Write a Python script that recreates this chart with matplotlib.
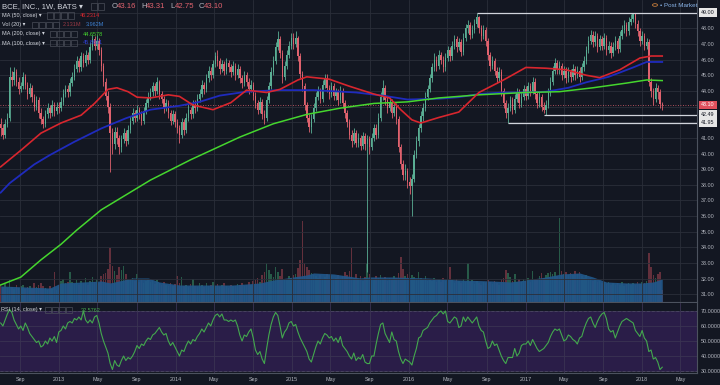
import matplotlib.pyplot as plt
import matplotlib.transforms as mtransforms
from matplotlib.patches import Rectangle, Circle
import numpy as np
import pandas as pd

plt.rcParams['font.family'] = ['Liberation Sans', 'DejaVu Sans']

# weekly candles, BCE on BATS, first week starts 2012-07-02
opens = [
    41.9, 41.6, 41.2, 41.9, 42.3, 44.9, 44.7, 45.2, 44.6, 44.1, 44.3, 44.9, 44.4, 43.8, 44.2, 43.6, 43.0, 43.4, 42.6, 42.2, 41.9, 42.5, 42.9, 42.6, 43.1, 42.7,
    43.0, 42.9, 43.3, 43.8, 44.1, 43.9, 44.5, 44.9, 45.4, 45.9, 45.5, 46.2, 45.8, 46.3, 46.0, 46.8, 47.3, 46.9, 47.2, 46.6, 45.6, 44.6, 43.7, 43.0, 41.3, 40.6, 41.4,
    41.0, 40.4, 40.9, 41.3, 40.8, 41.5, 42.1, 42.6, 42.3, 42.8, 42.5, 42.1, 42.7, 43.2, 43.6, 43.9, 44.3, 44.0, 44.6, 43.8, 43.5, 42.9, 43.2, 42.6, 42.1, 42.5,
    42.0, 41.6, 41.2, 42.0, 41.5, 42.3, 42.8, 42.5, 43.1, 42.9, 43.5, 43.8, 44.4, 44.1, 44.8, 45.3, 45.0, 45.7, 46.2, 45.9, 45.4, 45.7, 45.3, 45.8, 45.5, 45.2,
    45.6, 45.0, 45.4, 44.8, 44.5, 45.0, 44.6, 44.1, 44.4, 43.7, 43.2, 42.8, 43.3, 42.5, 42.3, 43.4, 44.3, 45.2, 45.9, 46.8, 47.3, 46.4, 44.9, 45.6, 46.3, 46.9,
    47.4, 47.0, 47.4, 46.2, 45.1, 44.3, 43.1, 42.3, 41.7, 42.2, 42.9, 43.6, 44.0, 43.5, 44.4, 44.8, 44.2, 43.8, 44.3, 43.7, 43.9, 43.4, 44.0, 43.2, 42.6, 42.0,
    41.2, 40.8, 41.3, 40.7, 41.0, 40.5, 41.1, 40.6, 40.9, 40.4, 41.0, 41.6, 41.2, 42.3, 43.6, 44.2, 43.4, 42.9, 43.3, 42.6, 43.0, 42.2, 40.4, 39.3, 38.6, 38.9,
    38.2, 37.9, 38.4, 39.9, 40.8, 41.6, 42.4, 42.9, 43.6, 44.1, 44.8, 45.5, 46.0, 45.6, 46.3, 46.0, 45.5, 46.1, 46.6, 46.2, 46.9, 47.3, 46.8, 47.1, 46.5, 47.4,
    48.0, 48.2, 47.6, 47.9, 48.3, 48.7, 48.0, 47.5, 47.9, 47.2, 46.3, 45.6, 45.9, 45.3, 44.8, 45.2, 44.0, 43.2, 42.6, 42.9, 43.4, 42.8, 43.5, 43.9, 43.2, 43.6,
    44.1, 43.7, 44.3, 44.0, 44.6, 43.8, 43.2, 43.6, 43.0, 42.8, 43.1, 43.9, 44.6, 45.3, 45.8, 45.4, 45.6, 45.0, 45.3, 44.8, 45.2, 44.9, 45.4, 45.0, 45.3, 44.9,
    45.5, 45.9, 46.6, 47.2, 47.6, 47.1, 47.5, 46.8, 47.3, 46.9, 47.4, 46.6, 46.9, 46.4, 46.8, 47.2, 46.7, 47.5, 47.9, 48.2, 47.8, 48.4, 48.6, 48.9, 48.3, 47.8,
    47.2, 47.5, 46.9, 47.1, 44.6, 44.0, 43.5, 44.2, 43.9, 43.16,
]
highs = [
    42.3, 41.9, 42.2, 42.6, 45.5, 45.3, 45.5, 45.4, 44.9, 44.6, 45.2, 45.1, 44.6, 44.5, 44.4, 43.8, 43.7, 43.6, 42.9, 42.4, 42.8, 43.2, 43.1, 43.4, 43.3, 43.3,
    43.3, 43.6, 44.1, 44.4, 44.4, 44.8, 45.2, 45.7, 46.2, 46.1, 46.5, 46.4, 46.6, 46.5, 47.1, 47.6, 47.5, 47.6, 47.4, 46.8, 45.8, 44.8, 44.0, 43.2, 41.6, 41.7, 41.7,
    41.2, 41.2, 41.6, 41.5, 41.8, 42.4, 42.9, 42.8, 43.1, 43.0, 42.7, 43.0, 43.5, 43.9, 44.2, 44.6, 44.5, 44.9, 44.7, 44.0, 43.7, 43.5, 43.4, 42.8, 42.8, 42.7,
    42.2, 41.8, 42.3, 42.2, 42.6, 43.1, 43.0, 43.4, 43.4, 43.8, 44.1, 44.7, 44.6, 45.1, 45.6, 45.5, 46.0, 46.5, 46.6, 46.1, 46.0, 45.9, 46.1, 46.0, 45.7, 45.9,
    45.8, 45.7, 45.6, 45.0, 45.3, 45.2, 44.8, 44.7, 44.6, 43.9, 43.4, 43.6, 43.5, 42.8, 43.7, 44.6, 45.5, 46.2, 47.1, 47.8, 47.5, 46.6, 45.9, 46.6, 47.2, 47.7,
    47.7, 47.8, 47.5, 46.4, 45.3, 44.5, 43.3, 42.5, 42.5, 43.2, 43.9, 44.3, 44.2, 44.7, 45.1, 45.1, 44.4, 44.6, 44.5, 44.2, 44.1, 44.3, 44.2, 43.4, 42.8, 42.2,
    41.5, 41.6, 41.5, 41.3, 41.2, 41.4, 41.3, 41.2, 41.1, 41.3, 41.9, 41.9, 42.6, 43.9, 44.7, 44.4, 43.6, 43.6, 43.5, 43.3, 43.2, 42.4, 40.6, 39.6, 39.3, 39.1,
    38.5, 38.7, 40.2, 41.1, 41.9, 42.7, 43.2, 43.9, 44.4, 45.1, 45.8, 46.4, 46.2, 46.6, 46.5, 46.2, 46.4, 46.9, 46.8, 47.2, 47.6, 47.5, 47.4, 47.3, 47.7, 48.3,
    48.5, 48.4, 48.2, 48.6, 49.0, 48.8, 48.2, 48.2, 48.1, 47.4, 46.5, 46.2, 46.1, 45.5, 45.5, 45.4, 44.2, 43.4, 43.2, 43.7, 43.6, 43.8, 44.2, 44.1, 43.9, 44.4,
    44.3, 44.6, 44.5, 44.9, 44.8, 44.0, 43.9, 43.8, 43.3, 43.4, 44.2, 44.9, 45.6, 46.1, 46.0, 45.9, 45.8, 45.6, 45.5, 45.5, 45.4, 45.7, 45.6, 45.6, 45.5, 45.8,
    46.2, 46.9, 47.5, 47.9, 47.8, 47.8, 47.7, 47.6, 47.5, 47.7, 47.6, 47.2, 47.1, 47.1, 47.5, 47.4, 47.8, 48.2, 48.5, 48.4, 48.7, 48.9, 49.0, 49.0, 48.5, 48.0,
    47.8, 47.7, 47.4, 47.3, 44.8, 44.2, 44.5, 44.4, 44.1, 43.31,
]
lows = [
    41.1, 40.9, 41.0, 41.7, 42.1, 44.3, 44.4, 44.3, 43.8, 43.9, 44.1, 44.1, 43.5, 43.6, 43.3, 42.7, 42.8, 42.3, 41.9, 41.6, 41.7, 42.3, 42.3, 42.4, 42.4, 42.5,
    42.6, 42.7, 43.1, 43.6, 43.6, 43.7, 44.3, 44.7, 45.2, 45.2, 45.3, 45.5, 45.6, 45.7, 45.8, 46.6, 46.6, 46.7, 46.3, 45.3, 44.3, 43.4, 42.6, 38.8, 40.0, 40.3, 40.6,
    40.0, 40.1, 40.7, 40.5, 40.6, 41.3, 41.9, 42.0, 42.1, 42.2, 41.8, 41.9, 42.5, 43.0, 43.4, 43.7, 43.7, 43.8, 43.5, 43.2, 42.6, 42.7, 42.3, 41.8, 41.9, 41.7,
    41.3, 40.7, 41.0, 41.2, 41.3, 42.1, 42.2, 42.3, 42.6, 42.7, 43.3, 43.6, 43.8, 43.9, 44.6, 44.7, 44.8, 45.5, 45.6, 45.1, 45.2, 45.0, 45.1, 45.2, 44.9, 45.0,
    44.7, 44.8, 44.5, 44.2, 44.3, 44.3, 43.8, 43.9, 43.4, 42.9, 42.5, 42.6, 42.2, 41.9, 42.1, 43.2, 44.1, 45.0, 45.7, 46.6, 46.1, 44.5, 44.7, 45.4, 46.1, 46.7,
    46.7, 46.8, 45.9, 44.8, 44.0, 42.8, 42.0, 41.4, 41.3, 42.0, 42.7, 43.4, 43.2, 43.3, 44.2, 43.9, 43.5, 43.6, 43.4, 43.4, 43.1, 43.2, 42.9, 42.3, 41.7, 40.9,
    40.4, 40.6, 40.4, 40.4, 40.2, 40.3, 40.2, 32.4, 40.0, 40.2, 40.8, 40.9, 41.0, 42.1, 43.4, 43.1, 42.6, 42.7, 42.3, 42.4, 41.9, 40.1, 39.0, 38.3, 38.3, 37.8,
    37.4, 36.0, 38.2, 39.7, 40.5, 41.4, 42.1, 42.7, 43.4, 43.9, 44.6, 45.3, 45.3, 45.4, 45.7, 45.2, 45.3, 45.9, 45.9, 46.0, 46.7, 46.5, 46.6, 46.2, 46.3, 47.2,
    47.7, 47.3, 47.4, 47.7, 48.1, 47.7, 47.2, 47.3, 46.9, 46.0, 45.3, 45.4, 45.0, 44.5, 44.6, 43.7, 42.9, 42.3, 41.95, 42.7, 42.5, 42.6, 43.3, 42.9, 43.0, 43.4,
    43.4, 43.5, 43.7, 43.8, 43.5, 42.9, 43.0, 42.7, 42.6, 42.49, 42.9, 43.7, 44.4, 45.1, 45.1, 45.1, 44.7, 44.8, 44.5, 44.6, 44.6, 44.7, 44.7, 44.8, 44.6, 44.7,
    45.3, 45.7, 46.4, 47.0, 46.8, 46.9, 46.5, 46.6, 46.6, 46.7, 46.3, 46.4, 46.1, 46.2, 46.6, 46.4, 46.5, 47.3, 47.7, 47.5, 47.6, 48.2, 48.4, 48.0, 47.5, 46.9,
    47.0, 46.6, 46.7, 44.3, 43.6, 43.1, 43.3, 43.5, 42.9, 42.75,
]
closes = [
    41.6, 41.2, 41.9, 42.3, 44.9, 44.7, 45.2, 44.6, 44.1, 44.3, 44.9, 44.4, 43.8, 44.2, 43.6, 43.0, 43.4, 42.6, 42.2, 41.9, 42.5, 42.9, 42.6, 43.1, 42.7, 43.0,
    42.9, 43.3, 43.8, 44.1, 43.9, 44.5, 44.9, 45.4, 45.9, 45.5, 46.2, 45.8, 46.3, 46.0, 46.8, 47.3, 46.9, 47.2, 46.6, 45.6, 44.6, 43.7, 43.0, 41.3, 40.6, 41.4, 41.0,
    40.4, 40.9, 41.3, 40.8, 41.5, 42.1, 42.6, 42.3, 42.8, 42.5, 42.1, 42.7, 43.2, 43.6, 43.9, 44.3, 44.0, 44.6, 43.8, 43.5, 42.9, 43.2, 42.6, 42.1, 42.5, 42.0,
    41.6, 41.2, 42.0, 41.5, 42.3, 42.8, 42.5, 43.1, 42.9, 43.5, 43.8, 44.4, 44.1, 44.8, 45.3, 45.0, 45.7, 46.2, 45.9, 45.4, 45.7, 45.3, 45.8, 45.5, 45.2, 45.6,
    45.0, 45.4, 44.8, 44.5, 45.0, 44.6, 44.1, 44.4, 43.7, 43.2, 42.8, 43.3, 42.5, 42.3, 43.4, 44.3, 45.2, 45.9, 46.8, 47.3, 46.4, 44.9, 45.6, 46.3, 46.9, 47.4,
    47.0, 47.4, 46.2, 45.1, 44.3, 43.1, 42.3, 41.7, 42.2, 42.9, 43.6, 44.0, 43.5, 44.4, 44.8, 44.2, 43.8, 44.3, 43.7, 43.9, 43.4, 44.0, 43.2, 42.6, 42.0, 41.2,
    40.8, 41.3, 40.7, 41.0, 40.5, 41.1, 40.6, 40.9, 40.4, 41.0, 41.6, 41.2, 42.3, 43.6, 44.2, 43.4, 42.9, 43.3, 42.6, 43.0, 42.2, 40.4, 39.3, 38.6, 38.9, 38.2,
    37.9, 38.4, 39.9, 40.8, 41.6, 42.4, 42.9, 43.6, 44.1, 44.8, 45.5, 46.0, 45.6, 46.3, 46.0, 45.5, 46.1, 46.6, 46.2, 46.9, 47.3, 46.8, 47.1, 46.5, 47.4, 48.0,
    48.2, 47.6, 47.9, 48.3, 48.7, 48.0, 47.5, 47.9, 47.2, 46.3, 45.6, 45.9, 45.3, 44.8, 45.2, 44.0, 43.2, 42.6, 42.9, 43.4, 42.8, 43.5, 43.9, 43.2, 43.6, 44.1,
    43.7, 44.3, 44.0, 44.6, 43.8, 43.2, 43.6, 43.0, 42.8, 43.1, 43.9, 44.6, 45.3, 45.8, 45.4, 45.6, 45.0, 45.3, 44.8, 45.2, 44.9, 45.4, 45.0, 45.3, 44.9, 45.5,
    45.9, 46.6, 47.2, 47.6, 47.1, 47.5, 46.8, 47.3, 46.9, 47.4, 46.6, 46.9, 46.4, 46.8, 47.2, 46.7, 47.5, 47.9, 48.2, 47.8, 48.4, 48.6, 48.9, 48.3, 47.8, 47.2,
    47.5, 46.9, 47.1, 44.6, 44.0, 43.5, 44.2, 43.9, 43.16, 43.10,
]
# weekly volume, millions
volumes = [
    2.9, 2.5, 3.1, 2.4, 3.8, 2.6, 2.2, 2.9, 2.4, 2.7, 3.0, 2.3, 2.6, 2.8, 2.2, 3.3, 2.5, 2.9, 3.2, 2.7, 2.4, 2.1, 2.8, 2.3, 5.2, 2.0,
    3.0, 3.6, 3.9, 3.2, 3.5, 5.2, 3.4, 3.1, 3.8, 2.9, 3.6, 3.3, 4.1, 3.0, 3.7, 4.3, 3.5, 3.9, 3.2, 4.4, 4.8, 5.0, 5.6, 9.3, 6.2, 5.4, 4.6,
    6.0, 5.5, 6.2, 4.9, 4.0, 3.8, 4.2, 3.6, 4.8, 3.5, 3.9, 3.3, 3.7, 4.0, 3.4, 3.6, 3.1, 3.8, 3.2, 2.9, 3.5, 3.0, 2.7, 3.3, 2.8, 3.1,
    4.4, 3.2, 4.3, 2.7, 3.0, 2.6, 3.1, 4.0, 2.8, 2.5, 3.2, 2.9, 2.6, 3.3, 2.7, 3.0, 3.4, 2.8, 3.1, 2.6, 2.9, 3.2, 2.7, 2.4, 3.0, 2.8,
    2.7, 3.1, 2.9, 3.3, 2.8, 3.0, 3.4, 2.9, 3.6, 3.8, 4.1, 3.5, 4.6, 5.2, 6.7, 5.5, 4.8, 4.3, 6.0, 5.1, 4.4, 5.6, 4.0, 3.8, 4.5, 4.2,
    4.6, 4.9, 5.8, 7.2, 14.0, 6.8, 6.1, 5.5, 5.0, 4.7, 4.4, 4.1, 4.6, 3.9, 4.3, 4.8, 4.0, 4.5, 3.8, 4.2, 4.6, 3.9, 4.4, 5.1, 4.7, 5.4,
    9.3, 4.2, 4.8, 3.9, 4.5, 3.7, 4.3, 6.7, 4.9, 4.0, 3.8, 4.4, 4.1, 4.7, 3.9, 4.3, 3.7, 4.2, 3.8, 4.5, 4.1, 5.0, 7.8, 5.6, 4.4, 4.9,
    5.2, 4.6, 4.3, 3.9, 5.2, 4.1, 3.8, 4.4, 3.7, 4.0, 3.6, 4.2, 3.5, 3.9, 3.4, 4.1, 3.7, 3.5, 6.0, 3.8, 3.3, 3.9, 3.6, 3.2, 4.0, 3.5,
    6.7, 3.4, 3.8, 3.1, 3.6, 3.3, 3.0, 3.5, 3.2, 3.8, 3.4, 3.1, 3.7, 3.3, 3.0, 3.9, 4.2, 5.5, 5.0, 4.3, 3.6, 4.8, 3.4, 3.9, 3.5, 4.0,
    3.7, 4.1, 3.5, 5.3, 4.0, 3.8, 4.4, 5.0, 4.2, 4.6, 5.0, 5.2, 4.8, 5.1, 4.5, 14.5, 5.4, 4.9, 5.2, 4.6, 5.0, 4.7, 5.3, 4.8, 5.1, 4.5,
    4.2, 4.6, 3.9, 4.1, 3.6, 3.8, 3.4, 3.7, 3.2, 3.5, 3.1, 3.4, 3.0, 3.3, 2.9, 3.2, 3.0, 3.4, 2.8, 3.1, 3.3, 2.9, 3.2, 3.0, 3.4, 3.1,
    3.5, 3.2, 3.6, 8.4, 6.0, 4.7, 4.2, 4.9, 5.2, 2.131,
]
rsi_vals = [
    62, 60, 64, 68, 71, 69, 64, 61, 58, 60, 57, 62, 59, 55, 53, 51, 49, 50, 46, 47, 50, 48, 52, 50, 53, 49,
    56, 57, 60, 58, 62, 63, 62, 65, 64, 66, 64, 70, 64, 62, 64, 62, 66, 67, 62, 55, 50, 46, 42, 35, 31, 37, 34,
    33, 37, 40, 37, 39, 38, 40, 43, 47, 45, 48, 47, 50, 52, 51, 54, 55, 57, 59, 56, 54, 55, 50, 47, 49, 46,
    43, 40, 44, 43, 47, 50, 48, 51, 50, 53, 55, 58, 56, 59, 62, 60, 64, 67, 68, 66, 68, 64, 64, 63, 64, 63,
    64, 60, 54, 50, 54, 53, 56, 58, 52, 44, 41, 43, 38, 35, 45, 54, 61, 66, 69, 67, 60, 52, 56, 58, 62, 63,
    60, 61, 56, 52, 49, 46, 43, 38, 36, 41, 46, 50, 48, 52, 55, 54, 52, 53, 50, 52, 49, 53, 47, 45, 43, 40,
    38, 42, 37, 39, 38, 41, 36, 35, 35, 40, 40, 48, 55, 61, 62, 55, 52, 49, 56, 51, 50, 43, 38, 35, 38, 37,
    36, 34, 40, 45, 52, 53, 57, 58, 59, 62, 64, 66, 67, 69, 70, 68, 70, 63, 62, 64, 66, 65, 59, 60, 66, 63,
    66, 64, 62, 64, 66, 60, 57, 56, 50, 45, 46, 50, 47, 48, 44, 40, 37, 35, 39, 39, 39, 45, 40, 42, 47, 48,
    48, 50, 47, 51, 48, 45, 43, 44, 45, 47, 49, 53, 56, 58, 57, 58, 54, 50, 51, 54, 53, 51, 50, 48, 52, 53,
    58, 62, 65, 66, 62, 59, 63, 66, 68, 69, 65, 58, 56, 57, 52, 56, 60, 63, 64, 65, 64, 63, 62, 57, 55, 53,
    57, 52, 50, 43, 44, 38, 39, 36, 31, 32.58,
]
# moving averages (week index, value)
ma50_weeks = [0, 9, 18, 27, 36, 42, 48, 52, 57, 61, 67, 75, 80, 86, 95, 103, 110, 119, 125, 133, 137,
              147, 156, 167, 174, 179, 184, 188, 196, 205, 214, 225, 235, 244, 253, 262, 268, 277, 286, 291, 296]
ma50_vals = [39.15, 40.2, 41.3, 41.95, 42.45, 43.2, 44.1, 44.2, 43.95, 43.6, 43.55, 43.75, 43.65, 43.1, 42.8,
             43.25, 44.05, 43.9, 44.1, 44.7, 44.9, 44.75, 44.3, 43.8, 43.55, 42.8, 42.15, 41.95, 42.3, 42.65,
             43.9, 44.7, 45.5, 45.45, 45.35, 45.0, 44.85, 45.35, 46.1, 46.23, 46.23]
ma100_weeks = [0, 4, 15, 22, 33, 45, 56, 67, 80, 89, 98, 110, 125, 140, 159, 171, 182, 196, 205, 214,
               225, 235, 244, 254, 262, 272, 283, 289, 296]
ma100_vals = [37.5, 38.1, 39.3, 39.9, 40.75, 41.6, 42.25, 42.8, 43.05, 43.3, 43.7, 43.95, 44.05, 44.05,
              43.9, 43.7, 43.45, 43.5, 43.6, 43.8, 43.9, 43.9, 43.95, 44.2, 44.55, 44.9, 45.5, 45.85, 45.85]
ma200_weeks = [0, 9, 18, 27, 34, 45, 56, 67, 85, 107, 122, 137, 152, 167, 182, 196, 214, 235, 250, 265, 280, 289, 296]
ma200_vals = [31.6, 32.1, 33.2, 34.2, 35.1, 36.4, 37.35, 38.3, 39.6, 41.05, 41.9, 42.5, 42.9, 43.2, 43.3,
              43.55, 43.75, 43.9, 43.95, 44.2, 44.5, 44.7, 44.66]
volma_weeks = [0, 22, 27, 37, 45, 49, 59, 66, 71, 80, 95, 104, 116, 122, 131, 137, 140, 149, 161, 165, 175,
               191, 205, 220, 228, 235, 244, 251, 259, 265, 271, 280, 287, 292, 296]
volma_vals = [2.76, 2.41, 3.28, 3.45, 3.62, 3.28, 4.14, 4.14, 3.45, 2.93, 2.93, 2.93, 3.28, 3.79, 4.31, 4.66,
              5.0, 4.83, 4.14, 4.31, 4.31, 4.14, 3.79, 3.62, 3.45, 3.79, 4.31, 4.83, 5.0, 4.31, 3.45, 3.28,
              3.28, 3.45, 3.96]

# horizontal levels drawn on the chart and the week they start from
level_values = [49.00, 42.49, 41.95]
level_weeks = [213, 243, 227]

opens = np.array(opens)
highs = np.array(highs)
lows = np.array(lows)
closes = np.array(closes)
n = len(closes)
weeks = np.arange(n)
start = pd.Timestamp('2012-07-02')

bg = '#131722'
grid_c = '#2a2e39'
txt_c = '#b2b5be'
up_c = '#5aae94'
dn_c = '#e0626e'
edge_c = '#4c525e'

W, H = 720, 385
fig = plt.figure(figsize=(7.2, 3.85), dpi=100, facecolor=bg)


def fx(px):
    return px / W


def fy(py):
    return 1 - py / H


main_rect = [0, fy(302), fx(697), 302 / H]
rsi_rect = [0, fy(373), fx(697), 70 / H]
xlim = (-0.3, 697 / 2.235 - 0.3)

tick_dates = pd.date_range('2012-09-01', '2018-05-01', freq='4MS')
tick_pos = (tick_dates - start).days / 7
tick_text = [str(d.year) if d.month == 1 else d.strftime('%b') for d in tick_dates]

# volume panel sits underneath the price panel
ax_vol = fig.add_axes(main_rect)
ax_vol.set_facecolor(bg)
up = closes >= opens
vol_colors = np.where(up, '#275a48', '#63303c')
ax_vol.bar(weeks, volumes, width=0.7, color=vol_colors, lw=0)
ax_vol.fill_between(volma_weeks, volma_vals, 0, color='#21578a', alpha=0.92, lw=0)
ax_vol.set_ylim(0, 52)
ax_vol.set_xlim(xlim)
ax_vol.axis('off')

ax = fig.add_axes(main_rect)
ax.patch.set_alpha(0)
ax.set_xlim(xlim)
ax.set_ylim(30.51, 49.81)

price_ticks = np.arange(31, 50)
ax.set_yticks(price_ticks)
ax.set_yticklabels(['' if v in (42, 43, 49) else f'{v:.2f}' for v in price_ticks])
ax.yaxis.tick_right()
ax.set_xticks(tick_pos)
ax.tick_params(axis='x', length=0, labelbottom=False)
ax.tick_params(axis='y', length=0, pad=3, labelsize=3.9, labelcolor=txt_c)
ax.grid(True, color=grid_c, lw=0.6)
ax.set_axisbelow(True)
for s in ['top', 'left']:
    ax.spines[s].set_visible(False)
for s in ['right', 'bottom']:
    ax.spines[s].set_color(edge_c)
    ax.spines[s].set_linewidth(0.8)

# candles
cand_colors = np.where(up, up_c, dn_c)
ax.vlines(weeks, lows, highs, colors=cand_colors, lw=0.6, zorder=3)
body = np.maximum(np.abs(closes - opens), 0.04)
ax.bar(weeks, body, bottom=np.minimum(opens, closes), width=0.62, color=cand_colors, lw=0, zorder=3)

ax.plot(ma100_weeks, ma100_vals, color='#1f2bbd', lw=1.3, zorder=4)
ax.plot(ma200_weeks, ma200_vals, color='#45d62e', lw=1.1, zorder=4)
ax.plot(ma50_weeks, ma50_vals, color='#d8262e', lw=1.2, zorder=5)

ax.axhline(closes[-1], color=dn_c, lw=0.6, ls=(0, (1, 2)), zorder=2)
for v, w0 in zip(level_values, level_weeks):
    ax.hlines(v, w0, xlim[1], color='#d1d4dc', lw=0.9, zorder=5)

trans = mtransforms.blended_transform_factory(ax.transAxes, ax.transData)
for v in level_values:
    ax.text(1.006, v, f'{v:.2f}', transform=trans, fontsize=3.9, color='#131722',
            va='center', ha='left', clip_on=False,
            bbox=dict(boxstyle='square,pad=0.35', fc='#e6e6e6', ec='none'))
ax.text(1.006, closes[-1], f'{closes[-1]:.2f}', transform=trans, fontsize=3.9, color='white',
        va='center', ha='left', clip_on=False,
        bbox=dict(boxstyle='square,pad=0.35', fc='#e0505c', ec='none'))

# RSI panel
ax_rsi = fig.add_axes(rsi_rect)
ax_rsi.set_facecolor(bg)
ax_rsi.axhspan(30, 70, color='#2a1d48', lw=0, zorder=0)
ax_rsi.set_xlim(xlim)
ax_rsi.set_ylim(28.7, 75.3)
ax_rsi.set_yticks([30, 40, 50, 60, 70])
ax_rsi.set_yticklabels([f'{v:.4f}' for v in [30, 40, 50, 60, 70]])
ax_rsi.yaxis.tick_right()
ax_rsi.set_xticks(tick_pos)
ax_rsi.set_xticklabels(tick_text)
ax_rsi.tick_params(axis='x', length=0, pad=3, labelsize=3.9, labelcolor=txt_c)
ax_rsi.tick_params(axis='y', length=0, pad=3, labelsize=3.9, labelcolor=txt_c)
ax_rsi.grid(True, color='#3a3352', lw=0.6)
for v in [30, 70]:
    ax_rsi.axhline(v, color='#8c8fa0', lw=0.7, ls=(0, (3, 2)), zorder=1)
ax_rsi.plot(weeks, rsi_vals, color='#43a84e', lw=0.8, zorder=3)
for s in ['top', 'left']:
    ax_rsi.spines[s].set_visible(False)
for s in ['right', 'bottom']:
    ax_rsi.spines[s].set_color(edge_c)
    ax_rsi.spines[s].set_linewidth(0.8)


# legend texts
def ftext(x, y, s, **kw):
    fig.text(fx(x), fy(y), s, va='center', ha='left', **kw)


def icon_boxes(x0, yc, k):
    for i in range(k):
        fig.add_artist(Rectangle((fx(x0 + i * 7), fy(yc + 3)), 6 / W, 6 / H,
                                 fc='none', ec='#4a4e5a', lw=0.5))


ftext(2, 6.5, 'BCE, INC., 1W, BATS ▾', color='#d1d4dc', fontsize=5.6)
icon_boxes(91, 6.5, 2)
for x, lab, x2, val in [(112, 'O', 117, '43.16'), (141, 'H', 146, '43.31'),
                        (170, 'L', 175, '42.75'), (199, 'C', 204, '43.10')]:
    ftext(x, 6.5, lab, color=txt_c, fontsize=5.6)
    ftext(x2, 6.5, val, color=dn_c, fontsize=5.6)

leg_fs = 4.0
ftext(2, 15.5, 'MA (50, close) ▾', color='#d1d4dc', fontsize=leg_fs)
icon_boxes(47, 15.5, 4)
ftext(80, 15.5, '46.2314', color='#d8262e', fontsize=leg_fs)

ftext(2, 24.5, 'Vol (20) ▾', color='#d1d4dc', fontsize=leg_fs)
icon_boxes(32, 24.5, 4)
ftext(63, 24.5, '2.131M', color='#9a3a45', fontsize=leg_fs)
ftext(86, 24.5, '3.962M', color='#3d7fd0', fontsize=leg_fs)

ftext(2, 34, 'MA (200, close) ▾', color='#d1d4dc', fontsize=leg_fs)
icon_boxes(50, 34, 4)
ftext(83, 34, '44.6578', color='#45d62e', fontsize=leg_fs)

ftext(2, 43, 'MA (100, close) ▾', color='#d1d4dc', fontsize=leg_fs)
icon_boxes(50, 43, 4)
ftext(83, 43, '45.8631', color='#2f3fd0', fontsize=leg_fs)

ftext(1, 310, 'RSI (14, close) ▾', color='#d1d4dc', fontsize=leg_fs)
icon_boxes(45, 310, 4)
ftext(81, 310, '32.5762', color='#43a84e', fontsize=leg_fs)

fig.add_artist(Circle((fx(655), fy(5)), 2.5 / W, fc='none', ec='#c77d3a', lw=0.6))
ftext(660, 5.5, '• Post Market', color='#8ab4e8', fontsize=4.5)

fig.savefig('out.png', dpi=100, facecolor=bg)
